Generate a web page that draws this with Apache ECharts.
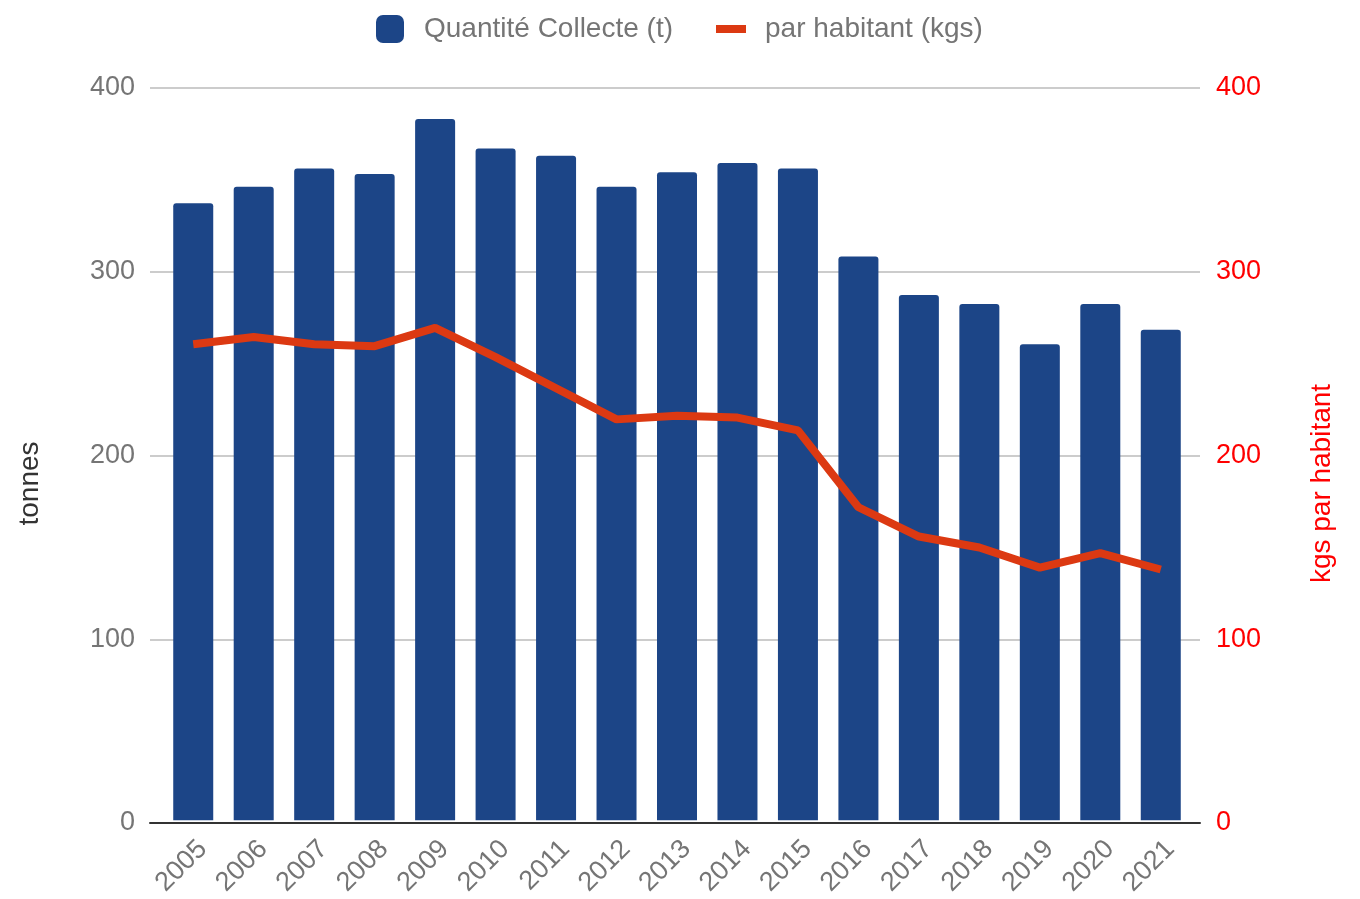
<!DOCTYPE html>
<html>
<head>
<meta charset="utf-8">
<script src="https://cdn.jsdelivr.net/npm/echarts@6/dist/echarts.min.js"></script>
<style>
  html, body { margin: 0; padding: 0; background: #fff; }
  #main { width: 1360px; height: 899px; }
</style>
</head>
<body>
<div id="main"></div>
<script>
const years = ['2005', '2006', '2007', '2008', '2009', '2010', '2011', '2012', '2013',
  '2014', '2015', '2016', '2017', '2018', '2019', '2020', '2021']
const quantite = [337, 346, 356, 353, 383, 367, 363, 346, 354, 359, 356, 308, 287, 282, 260, 282, 268]
const parHabitant = [260, 264, 260, 259, 269, 253, 236, 219, 221, 220, 213, 171, 155, 149, 138, 146, 137]

const font = 'Liberation Sans, Arial, sans-serif'
const gray = '#757575'

const chart = echarts.init(document.getElementById('main'))
chart.setOption({
  animation: false,
  textStyle: { fontFamily: font },
  legend: [
    {
      data: ['Quantité Collecte (t)'],
      left: 371, top: 10,
      itemWidth: 28, itemHeight: 28,
      icon: 'roundRect',
      textStyle: { fontSize: 28, color: gray, fontFamily: font, padding: [0, 0, 0, 15] }
    },
    {
      data: ['par habitant (kgs)'],
      left: 711, top: 10,
      itemWidth: 30, itemHeight: 8,
      icon: 'rect',
      textStyle: { fontSize: 28, color: gray, fontFamily: font, padding: [0, 0, 0, 14] }
    }
  ],
  grid: [
    { left: 150, right: 160, top: 88, bottom: 76 },
    { left: 163, right: 169, top: 88, bottom: 76 }
  ],
  xAxis: [
    {
      gridIndex: 0, type: 'category', data: years,
      axisLine: { lineStyle: { color: '#333', width: 2 } },
      axisTick: { show: false },
      axisLabel: { show: false }
    },
    {
      gridIndex: 1, type: 'category', data: years,
      axisLine: { show: false },
      axisTick: { show: false },
      axisLabel: {
        rotate: 45, fontSize: 27, color: gray, margin: 15, fontFamily: font,
        verticalAlign: 'top'
      }
    }
  ],
  yAxis: [
    {
      gridIndex: 0, type: 'value', min: 0, max: 400, interval: 100,
      name: 'tonnes', nameLocation: 'middle', nameRotate: 90, nameGap: 106,
      nameTextStyle: { fontSize: 28, color: '#333', fontFamily: font, padding: [0, 56, 0, 0] },
      axisLabel: { fontSize: 27, color: gray, margin: 15, fontFamily: font },
      axisLine: { show: false }, axisTick: { show: false },
      splitLine: { lineStyle: { color: '#cccccc', width: 2 } }
    },
    {
      gridIndex: 0, type: 'value', position: 'right', min: 0, max: 400, interval: 100,
      name: 'kgs par habitant', nameLocation: 'middle', nameRotate: 90, nameGap: 108,
      nameTextStyle: { fontSize: 28, color: '#ff0000', fontFamily: font, padding: [0, 56, 0, 0] },
      axisLabel: { fontSize: 27, color: '#ff0000', margin: 16, fontFamily: font },
      axisLine: { show: false }, axisTick: { show: false },
      splitLine: { show: false }
    },
    { gridIndex: 1, type: 'value', min: 0, max: 400, show: false, splitLine: { show: false } },
    { gridIndex: 1, type: 'value', position: 'right', min: 0, max: 400, show: false, splitLine: { show: false } }
  ],
  series: [
    {
      name: 'Quantité Collecte (t)',
      type: 'bar',
      xAxisIndex: 1, yAxisIndex: 2,
      data: quantite,
      barWidth: 40,
      itemStyle: { color: '#1c4587', borderRadius: [3, 3, 0, 0] }
    },
    {
      name: 'par habitant (kgs)',
      type: 'line',
      xAxisIndex: 1, yAxisIndex: 3,
      data: parHabitant,
      showSymbol: false,
      symbol: 'none',
      lineStyle: { color: '#dc3912', width: 8 },
      itemStyle: { color: '#dc3912' },
      z: 5
    }
  ]
})
</script>
</body>
</html>
